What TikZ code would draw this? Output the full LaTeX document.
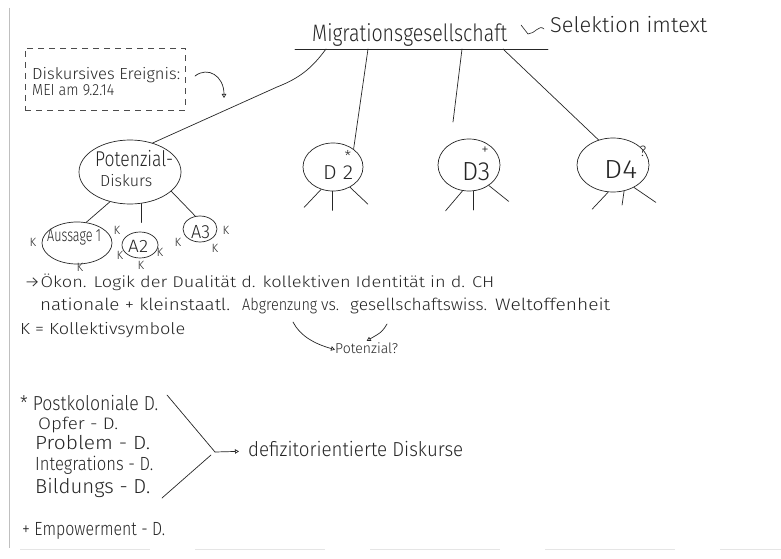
\documentclass[tikz,border=0pt]{standalone}
\usepackage{fontspec}
\setmainfont{Fira Sans}[UprightFont=* Light]
\usepackage{graphicx}
\usetikzlibrary{arrows.meta,shapes.geometric}
% text stretched to a given width and strut height
\newcommand{\hw}[3]{\resizebox{#1pt}{#2pt}{\strut #3}}
\begin{document}
\begin{tikzpicture}[x=1pt,y=-1pt,
  ink/.style={draw=black!85, line width=0.7pt, line cap=round},
  txt/.style={anchor=base west, inner sep=0pt, text=black!85},
  bub/.style={ellipse, draw=black!85, line width=0.7pt, inner sep=0pt},
  kk/.style={inner sep=0pt, text=black!85, font=\fontsize{12}{12}\selectfont},
  mk/.style={inner sep=0pt, text=black!85, font=\fontsize{15}{15}\selectfont},
  tip/.style={-{Triangle[open,length=4pt,width=4.5pt]}}
]
\useasboundingbox (0,0) rectangle (781,559);
\fill[white] (0,0) rectangle (781,559);

% faint page edges
\draw[black!25, line width=0.4pt] (9,8) -- (9,548);
\draw[black!10, line width=1pt, dash pattern=on 130pt off 45pt] (20,549) -- (781,549);

% heading
\node[txt] (title) at (312,42) {\hw{195}{20}{Migrationsgesellschaft}};
\coordinate (ulL) at (295,49);
\coordinate (ulR) at (548,49);
\draw[ink] (ulL) -- (ulR);
\node[txt] (sel) at (550,33) {\hw{157}{18}{Selektion imtext}};
\coordinate (sqA) at (544,29);
\coordinate (sqB) at (521,25);
\draw[ink, line width=0.6pt] (sqA) .. controls (539,24) and (535,34) .. (528,34) -- (sqB);

% branch points on the heading line
\coordinate (b1) at (326,49);
\coordinate (b2) at (368,49);
\coordinate (b3) at (462,49);
\coordinate (b4) at (503,49);
\coordinate (d3end) at (453,122);

% discursive event
\node[draw=black!70, dash pattern=on 6pt off 5pt, line width=0.5pt,
      minimum width=160pt, minimum height=62pt, inner sep=0pt] (evt) at (105,79) {};
\node[txt] (evt1) at (32,80) {\hw{148}{13.5}{Diskursives Ereignis:}};
\node[txt] (evt2) at (32,96) {\hw{82}{13.5}{MEI am 9.2.14}};
\coordinate (hk) at (195,76);
\coordinate (hkend) at (224,98);
\draw[ink, tip] (hk) .. controls (208,66) and (224,76) .. (hkend);

% discourse bubbles
\node[bub, minimum width=102pt, minimum height=64pt] (P) at (130,172) {};
\node[txt] (Pt1) at (95,166) {\hw{78}{18}{Potenzial-}};
\node[txt] (Pt2) at (100,186) {\hw{52}{13.5}{Diskurs}};

\node[bub, minimum width=60pt, minimum height=48pt] (D2) at (333,167) {};
\node[txt] (D2t) at (323,179) {\hw{30}{17}{D 2}};
\node[mk, anchor=south] (D2s) at (348,161.5) {*};

\node[bub, minimum width=62pt, minimum height=52pt] (D3) at (469,165) {};
\node[txt] (D3t) at (462,180) {\hw{28}{22}{D3}};
\node[mk] (D3s) at (485,151) {+};

\node[bub, minimum width=72pt, minimum height=54pt] (D4) at (613,165) {};
\node[txt] (D4t) at (604,178) {\hw{33}{22}{D4}};
\node[mk] (D4s) at (643,151) {?};

\draw[ink] (b1) .. controls (312,68) and (300,78) .. (277,87) -- (P.52);
\draw[ink] (b2) -- (D2.41);
\draw[ink] (b3) -- (d3end);
\draw[ink] (b4) -- (D4.120);

% legs under the discourses
\draw[ink] (D2.242) -- ++(-17,18);
\draw[ink] (D2.268) -- ++(0,19);
\draw[ink] (D2.310) -- ++(18,17);
\draw[ink] (D3.256) -- ++(-17,20);
\draw[ink] (D3.280) -- ++(0,19);
\draw[ink] (D3.314) -- ++(20,16);
\draw[ink] (D4.260) -- ++(-16,17);
\draw[ink] (D4.293) -- ++(-2,14);
\draw[ink] (D4.313) -- ++(22,15);

% statements
\node[bub, minimum width=70pt, minimum height=42pt] (A1) at (77,243) {};
\node[txt] (A1t) at (47,241) {\hw{54}{15}{Aussage 1}};
\node[bub, minimum width=36pt, minimum height=26pt] (A2) at (140,245) {};
\node[txt] (A2t) at (128,252) {\hw{20}{15}{A2}};
\node[bub, minimum width=34pt, minimum height=26pt] (A3) at (200,229) {};
\node[txt] (A3t) at (191,238) {\hw{19}{16}{A3}};

\draw[ink] (P.236) -- (A1.66);
\draw[ink] (P.290) -- ++(0,19);
\draw[ink] (P.335) -- (A3.110);

% collective symbols
\foreach \n/\px/\py in {k1/33/242, k2/117/230, k3/80/267, k4/120/255, k5/160/252,
                        k6/141/265, k7/178/242, k8/226/230, k9/215/248}
  \node[kk] (\n) at (\px,\py) {K};

% notes
\node[txt] (n1) at (24,287) {\hw{470}{13.5}{→Ökon. Logik der Dualität d. kollektiven Identität in d. CH}};
\node[txt] (n2a) at (40,310) {\hw{190}{14}{nationale + kleinstaatl.}};
\node[txt] (abg) at (242,310) {\hw{75}{14}{Abgrenzung}};
\node[txt] (vs) at (321,310) {\hw{18}{14}{vs.}};
\node[txt] (gsw) at (350,310) {\hw{137}{14}{gesellschaftswiss.}};
\node[txt] (wo) at (495,310) {\hw{115}{14}{Weltoffenheit}};
\node[txt] (n3) at (20,334) {\hw{165}{13.5}{K = Kollektivsymbole}};
\node[txt] (pot) at (335,353) {\hw{63}{12}{Potenzial?}};
\coordinate (a1s) at (293,322);
\coordinate (a2s) at (387,324);
\draw[ink, tip] (a1s) .. controls (300,336) and (315,344) .. (pot.west);
\draw[ink, tip] (a2s) .. controls (382,332) .. (pot.north);

% list of deficit-oriented discourses
\node[txt] (l0) at (20,410) {\hw{138}{17}{* Postkoloniale D.}};
\node[txt] (l1) at (38,429) {\hw{80}{14}{Opfer - D.}};
\node[txt] (l2) at (35,449) {\hw{115}{16}{Problem - D.}};
\node[txt] (l3) at (35,470) {\hw{118}{16}{Integrations - D.}};
\node[txt] (l4) at (35,493) {\hw{115}{17}{Bildungs - D.}};
\node[txt] (l5) at (22,535) {\hw{143}{16}{+ Empowerment - D.}};
\node[txt] (def) at (248,456) {\hw{215}{17}{defizitorientierte Diskurse}};
\coordinate (g1) at (167,395);
\coordinate (g2) at (162,498);
\coordinate (jn) at (215,452);
\draw[ink] (g1) -- (jn);
\draw[ink] (g2) -- (211,455);
\draw[ink, tip, shorten >=9pt] (jn) -- (def.west);
\end{tikzpicture}
\end{document}
